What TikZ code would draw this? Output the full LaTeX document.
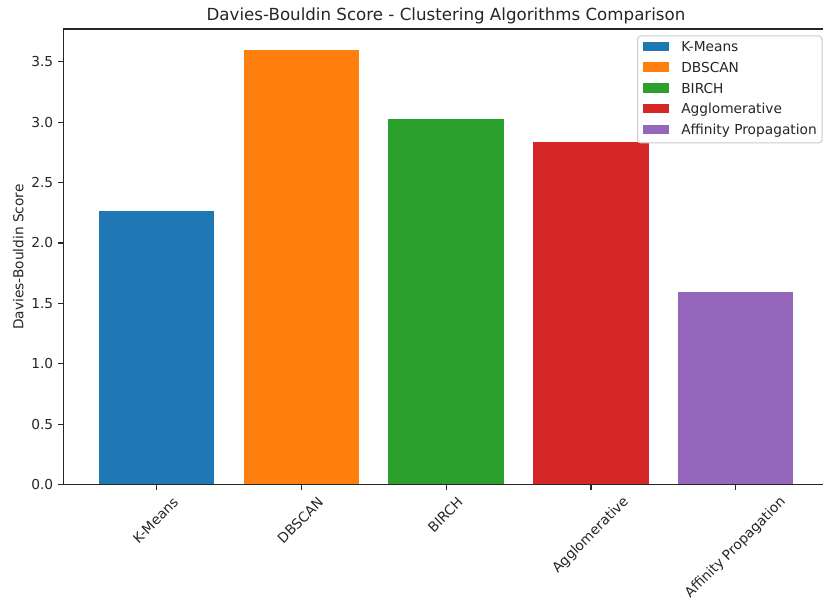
\documentclass[tikz,border=0pt]{standalone}
\usepackage{fontspec}
\setmainfont{DejaVu Sans}
\definecolor{cblue}{HTML}{1F77B4}
\definecolor{corange}{HTML}{FF7F0E}
\definecolor{cgreen}{HTML}{2CA02C}
\definecolor{cred}{HTML}{D62728}
\definecolor{cpurple}{HTML}{9467BD}
\definecolor{ink}{HTML}{262626}
\begin{document}
\begin{tikzpicture}[x=0.75pt,y=-0.75pt,
  ticklbl/.style={font=\fontsize{10.3}{12}\selectfont, text=ink, inner sep=0pt},
  xlbl/.style={ticklbl, rotate=45, anchor=center},
  spine/.style={draw=ink, line width=0.83pt},
  tickmark/.style={draw=ink, line width=0.83pt},
  bar/.style={draw=none}
]
\useasboundingbox (0,0) rectangle (823,598);
\fill[white] (0,0) rectangle (823,598);
% bars
\fill[cblue]   (99,484.7) rectangle (214.4,211);
\fill[corange] (243.6,484.7) rectangle (359.2,50);
\fill[cgreen]  (388.3,484.7) rectangle (503.9,119.3);
\fill[cred]    (533.1,484.7) rectangle (648.6,142.3);
\fill[cpurple] (677.8,484.7) rectangle (793.4,292);
% spines
\draw[spine] (63.3,484.7) -- (63.3,29);
\draw[spine] (63.3,29) -- (823,29);
\draw[spine] (63.3,484.7) -- (823,484.7);
% y ticks
\foreach \v/\y in {0.0/484.7,0.5/424.3,1.0/363.9,1.5/303.5,2.0/243.0,2.5/182.6,3.0/122.2,3.5/61.7}{
  \draw[tickmark] (63.3,\y) -- (58.4,\y);
  \node[ticklbl, anchor=east] at (53.5,\y) {\v};
}
% x ticks
\foreach \x in {156.7,301.5,446.2,591,735.7}{
  \draw[tickmark] (\x,484.7) -- (\x,489.6);
}
\node[xlbl] (lk) at (155.5,520.5) {K-Means};
\node[xlbl] (ld) at (300.3,520.5) {DBSCAN};
\node[xlbl] (lb) at (445.3,514.7) {BIRCH};
\node[xlbl] (la) at (590.7,535.5) {Agglomerative};
\node[xlbl] (lp) at (735.5,548) {Affinity Propagation};
% axis label
\node[ticklbl, rotate=90, anchor=center] (ylab) at (18.3,257) {Davies-Bouldin Score};
% title
\node[font=\fontsize{12.5}{15}\selectfont, text=ink, inner sep=0pt, anchor=base] (title) at (446,20.5) {Davies-Bouldin Score - Clustering Algorithms Comparison};
% legend
\draw[draw=black!20, line width=0.75pt, fill=white, fill opacity=0.8, rounded corners=2.5pt] (637.5,36) rectangle (822,143);
\foreach \c/\t/\y in {cblue/K-Means/46.5, corange/DBSCAN/67.2, cgreen/BIRCH/87.9, cred/Agglomerative/108.6, cpurple/Affinity Propagation/129.3}{
  \fill[\c] (642.7,\y-4.7) rectangle (669.3,\y+4.7);
  \node[ticklbl, anchor=base west] at (681,\y+5.2) {\t};
}
\end{tikzpicture}
\end{document}
